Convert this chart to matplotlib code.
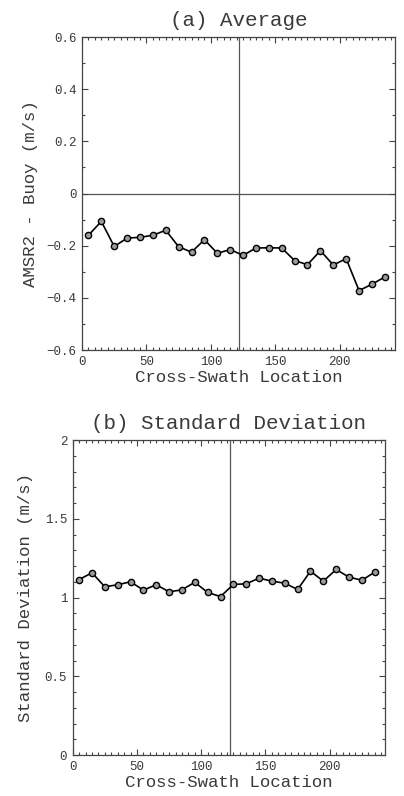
import matplotlib
matplotlib.use("Agg")
import matplotlib.pyplot as plt
from matplotlib.ticker import MultipleLocator, FuncFormatter

# Data
x_loc = [5, 15, 25, 35, 45, 55, 65, 75, 85, 95, 105, 115,
         125, 135, 145, 155, 165, 175, 185, 195, 205, 215, 225, 235]
avg_bias = [-0.160, -0.107, -0.203, -0.171, -0.168, -0.160, -0.141, -0.204,
            -0.225, -0.177, -0.229, -0.215, -0.237, -0.209, -0.208, -0.209,
            -0.257, -0.273, -0.219, -0.274, -0.250, -0.372, -0.348, -0.320]
std_dev = [1.114, 1.157, 1.068, 1.081, 1.100, 1.047, 1.081, 1.036,
           1.049, 1.097, 1.032, 1.006, 1.083, 1.087, 1.123, 1.104,
           1.091, 1.051, 1.167, 1.104, 1.178, 1.129, 1.110, 1.161]
nadir = 122
titles = ["(a) Average", "(b) Standard Deviation"]
ylabels = ["AMSR2 - Buoy (m/s)", "Standard Deviation (m/s)"]
xlabel = "Cross-Swath Location"

FONT = ["Liberation Mono", "DejaVu Sans Mono"]
TC = "#3a3a3a"
plt.rcParams["font.family"] = FONT
plt.rcParams["axes.unicode_minus"] = True

fig = plt.figure(figsize=(4.04, 7.96), dpi=100)
ax1 = fig.add_axes([0.203, 0.5603, 0.775, 0.3932])
ax2 = fig.add_axes([0.180, 0.0515, 0.773, 0.3957])


def fmt(v, pos):
    s = "%g" % round(v, 3)
    if s == "-0":
        s = "0"
    return s.replace("-", "\u2212")


def style(ax, ylim, major, minor):
    ax.set_xlim(0, 243)
    ax.set_ylim(*ylim)
    ax.xaxis.set_major_locator(MultipleLocator(50))
    ax.xaxis.set_minor_locator(MultipleLocator(5))
    ax.yaxis.set_major_locator(MultipleLocator(major))
    ax.yaxis.set_minor_locator(MultipleLocator(minor))
    ax.yaxis.set_major_formatter(FuncFormatter(fmt))
    ax.xaxis.set_major_formatter(FuncFormatter(fmt))
    ax.tick_params(which="both", direction="in", top=True, right=True,
                   colors="#444444", labelcolor=TC, labelsize=9, width=0.8)
    ax.tick_params(which="major", length=4.5, pad=4)
    ax.tick_params(which="minor", length=2.2)
    for s in ax.spines.values():
        s.set_color("#444444")
        s.set_linewidth(0.9)
    ax.axvline(nadir, color="#555555", lw=0.9, zorder=1)
    ax.set_xlabel(xlabel, fontsize=12.5, color=TC, labelpad=2)


style(ax1, (-0.6, 0.6), 0.2, 0.1)
ax1.axhline(0, color="#555555", lw=0.9, zorder=1)
ax1.plot(x_loc, avg_bias, color="black", lw=1.2, marker="o", ms=4.5,
         mfc="#9a9a9a", mec="black", mew=1.0, zorder=3)
ax1.set_title(titles[0], fontsize=15, color=TC, pad=8)
ax1.set_ylabel(ylabels[0], fontsize=12.5, color=TC)
ax1.yaxis.set_label_coords(-0.14, 0.5)

style(ax2, (0, 2), 0.5, 0.1)
ax2.plot(x_loc, std_dev, color="black", lw=1.2, marker="o", ms=4.5,
         mfc="#9a9a9a", mec="black", mew=1.0, zorder=3)
ax2.set_title(titles[1], fontsize=15, color=TC, pad=8)
ax2.set_ylabel(ylabels[1], fontsize=12.5, color=TC)
ax2.yaxis.set_label_coords(-0.127, 0.5)

fig.savefig("out.png", dpi=100, facecolor="white")
